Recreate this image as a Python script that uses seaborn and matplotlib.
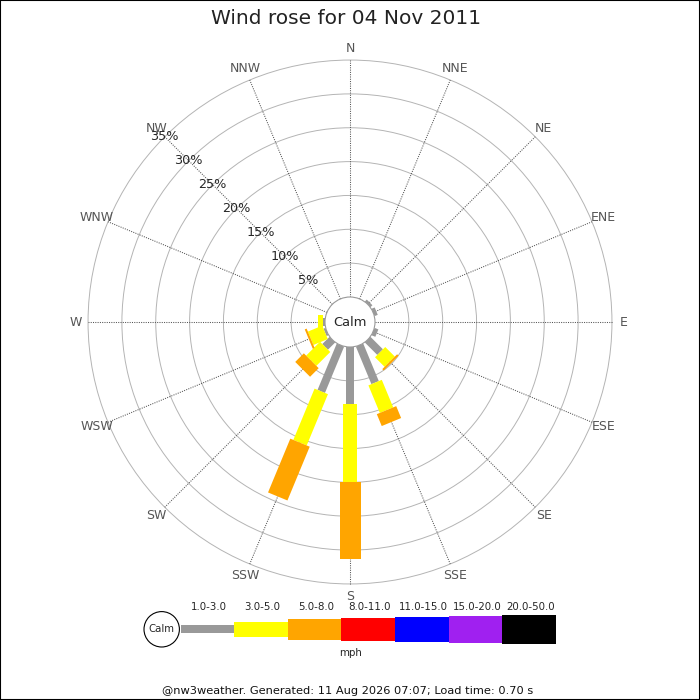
import numpy as np
import pandas as pd
import matplotlib
matplotlib.use('Agg')
import matplotlib.pyplot as plt
from matplotlib.patches import Circle, Rectangle
import seaborn as sns

# Dados (percentagem do tempo por direção e faixa de velocidade)
directions = ['N', 'NNE', 'NE', 'ENE', 'E', 'ESE', 'SE', 'SSE',
              'S', 'SSW', 'SW', 'WSW', 'W', 'WNW', 'NW', 'NNW']
pct_1_3 = [0, 0, 0.4, 0.5, 0, 0.6, 2.6, 6.0, 8.4, 7.4, 1.5, 0.3, 0.3, 0, 0, 0]
pct_3_5 = [0, 0, 0, 0, 0, 0, 2.0, 4.4, 11.6, 8.2, 2.9, 2.3, 0.7, 0, 0, 0]
pct_5_8 = [0, 0, 0, 0, 0, 0, 0.3, 1.9, 11.3, 8.6, 1.8, 0.3, 0, 0, 0, 0]

speed_bands = ['1.0-3.0', '3.0-5.0', '5.0-8.0', '8.0-11.0',
               '11.0-15.0', '15.0-20.0', '20.0-50.0']
band_colors = ['#999999', '#ffff00', '#ffa500', '#ff0000',
               '#0000ff', '#a020f0', '#000000']
ring_ticks = [5, 10, 15, 20, 25, 30, 35]

title = 'Wind rose for 04 Nov 2011'
footer = '@nw3weather. Generated: 11 Aug 2026 07:07; Load time: 0.70 s'

sns.set_style('white')
plt.rcParams['font.family'] = ['DejaVu Sans']

px = 6.77                 # pixels por 1%
calm_r = 25 / px          # raio do círculo "Calm"
band_px = [8, 14.5, 21, 22.5, 24.5, 26.5, 28.5]   # espessura das barras (px)

df = pd.DataFrame({'dir': directions,
                   speed_bands[0]: pct_1_3,
                   speed_bands[1]: pct_3_5,
                   speed_bands[2]: pct_5_8})
df['angle'] = np.radians(np.arange(len(directions)) * 22.5)

fig = plt.figure(figsize=(7, 7), dpi=100)
ax = fig.add_axes([0, 0, 1, 1])
ax.set_xlim(-350 / px, 350 / px)
ax.set_ylim(-(700 - 322) / px, 322 / px)
ax.axis('off')

outer = calm_r + ring_ticks[-1]

# Anéis
for t in ring_ticks:
    ax.add_patch(Circle((0, 0), calm_r + t, fill=False, ec='#b4b4b4', lw=0.7, zorder=1))

# Raios e nomes das direções
for d, th in zip(df['dir'], df['angle']):
    s, c = np.sin(th), np.cos(th)
    ax.plot([calm_r * s, outer * s], [calm_r * c, outer * c],
            ls=(0, (1, 1.2)), color='#555555', lw=0.75, zorder=2)
    lab_r = 274 / px
    ax.text(lab_r * s, lab_r * c, d, ha='center', va='center',
            color='#555555', fontsize=9)

# Barras empilhadas
for _, row in df.iterrows():
    th = row['angle']
    u = np.array([np.sin(th), np.cos(th)])
    p = np.array([np.cos(th), -np.sin(th)])
    r0 = calm_r
    for k, band in enumerate(speed_bands[:3]):
        v = row[band]
        if v <= 0:
            continue
        r1 = r0 + v
        hw = band_px[k] / px / 2
        pts = np.array([u * r0 + p * hw, u * r1 + p * hw,
                        u * r1 - p * hw, u * r0 - p * hw])
        ax.fill(pts[:, 0], pts[:, 1], color=band_colors[k], lw=0, zorder=3)
        r0 = r1

# Círculo central
ax.add_patch(Circle((0, 0), calm_r, fc='white', ec='#999999', lw=0.8, zorder=5))
ax.text(0, 0, 'Calm', ha='center', va='center', fontsize=9.4, zorder=6)

# Rótulos de percentagem ao longo de NW
nw = np.radians(315)
for t in ring_ticks:
    r = calm_r + t
    ax.text(r * np.sin(nw), r * np.cos(nw), f'{t}%', ha='center', va='center',
            fontsize=9.2, zorder=6)

# Título e rodapé
fig.text(346.5 / 700, 1 - 18 / 700, title, ha='center', va='center',
         fontsize=14.5, color='#222222')
fig.text(347.8 / 700, 1 - 691 / 700, footer, ha='center', va='center',
         fontsize=8.2, color='#111111')

# Legenda
lax = fig.add_axes([0, 0, 1, 1], facecolor='none')
lax.set_xlim(0, 700)
lax.set_ylim(700, 0)
lax.axis('off')
x0, seg_w, yc = 180.5, 53.6, 629.4
for i, (band, col) in enumerate(zip(speed_bands, band_colors)):
    left = x0 + i * seg_w
    lax.barh(yc, seg_w, left=left, height=band_px[i], color=col, lw=0)
    lax.text(left + seg_w / 2 + 1.5, 607.5, band, ha='center', va='center', fontsize=7.4)
lax.add_patch(Circle((161.7, 629.3), 17.7, fc='white', ec='black', lw=0.8, zorder=5))
lax.text(161.7, 629.5, 'Calm', ha='center', va='center', fontsize=7.3, zorder=6)
lax.text(350.8, 653.3, 'mph', ha='center', va='center', fontsize=7.4)

# Moldura
fig.patches.append(Rectangle((0, 0), 1, 1, transform=fig.transFigure,
                             fill=False, ec='black', lw=1.5))

fig.savefig('out.png', dpi=100)
